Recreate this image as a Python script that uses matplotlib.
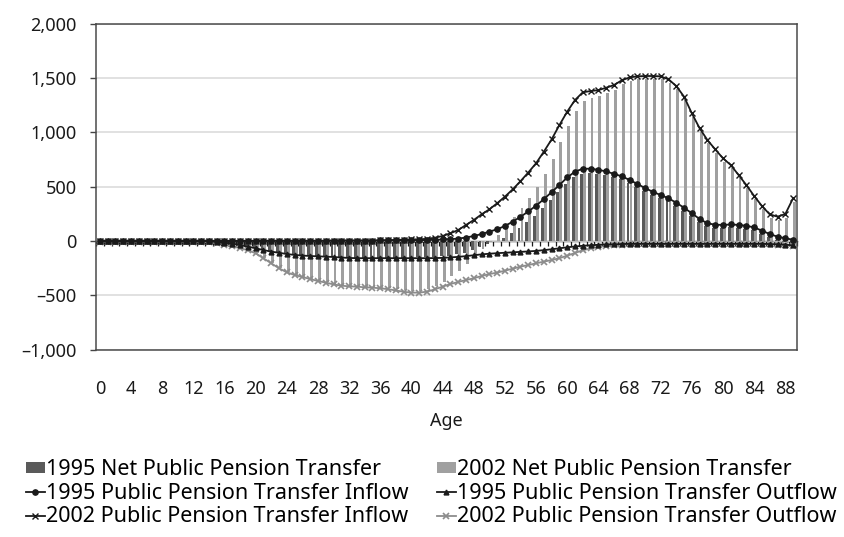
#!/usr/bin/env python3

import numpy as np
import matplotlib
matplotlib.use("Agg")
import matplotlib.pyplot as plt
from matplotlib.ticker import FuncFormatter

# Age groups 0..89
ages = list(range(90))

# 1995 net public pension transfer (dark bars)
net_1995 = [0] * 14 + [
    -3, -8, -15, -25, -38, -52,                                    # 14-19
    -65, -81, -96, -106, -118, -126, -132, -136, -139, -142,       # 20-29
    -143, -148, -152, -154, -154, -154, -153, -153, -153, -153,    # 30-39
    -152, -151, -149, -146, -141, -134, -124, -107, -85, -59,      # 40-49
    -31, -4, 30, 74, 122, 176, 234, 301, 374, 448,                 # 50-59
    527, 588, 621, 626, 620, 608, 588, 567, 536, 499,              # 60-69
    461, 426, 397, 367, 326, 280, 229, 176, 137, 124,              # 70-79
    122, 126, 122, 114, 99, 69, 36, 10, -9, -28]                   # 80-89

# 2002 net public pension transfer (light bars)
net_2002 = [-3] * 13 + [
    -6, -10, -18, -33, -48, -63, -83,                              # 13-19
    -111, -157, -203, -249, -286, -311, -329, -348, -366, -381,    # 20-29
    -395, -407, -413, -416, -422, -425, -429, -435, -445, -455,    # 30-39
    -461, -459, -446, -415, -374, -325, -276, -212, -150, -77,     # 40-49
    -13, 56, 135, 220, 300, 400, 500, 615, 757, 912,               # 50-59
    1060, 1195, 1285, 1315, 1330, 1362, 1393, 1440, 1475, 1488,    # 60-69
    1490, 1490, 1487, 1458, 1396, 1298, 1145, 1007, 899, 813,      # 70-79
    731, 669, 577, 485, 384, 292, 215, 192, 212, 360]              # 80-89

# 1995 inflow (black, circles)
inflow_1995 = [0] * 20 + [2] * 10 + [
    4, 4, 4, 4, 4, 4, 5, 5, 5, 5,                                  # 30-39
    6, 7, 9, 11, 14, 17, 22, 32, 46, 64,                           # 40-49
    86, 108, 138, 178, 222, 272, 325, 385, 450, 515,               # 50-59
    585, 638, 665, 665, 655, 640, 618, 595, 562, 525,              # 60-69
    487, 452, 423, 393, 352, 306, 255, 202, 163, 150,              # 70-79
    148, 152, 148, 140, 125, 95, 64, 40, 25, 12]                   # 80-89

# 1995 outflow (black, triangles)
outflow_1995 = [-2] * 14 + [
    -3, -8, -15, -25, -38, -52,                                    # 14-19
    -67, -83, -98, -108, -120, -128, -134, -138, -141, -144,       # 20-29
    -147, -152, -156, -158, -158, -158, -158, -158, -158, -158,    # 30-39
    -158, -158, -158, -157, -155, -151, -146, -139, -131, -123,    # 40-49
    -117, -112, -108, -104, -100, -96, -91, -84, -76, -67,         # 50-59
    -58, -50, -44, -39, -35, -32, -30, -28, -26, -26,              # 60-69
    -26, -26, -26, -26, -26, -26, -26, -26, -26, -26,              # 70-79
    -26, -26, -26, -26, -26, -26, -28, -30, -34, -40]              # 80-89

# 2002 inflow (black, x)
inflow_2002 = [2] * 30 + [
    4, 4, 4, 4, 4, 4, 6, 8, 10, 12,                                # 30-39
    14, 16, 20, 30, 46, 71, 101, 147, 193, 245,                    # 40-49
    291, 347, 408, 475, 550, 630, 715, 822, 935, 1067,             # 50-59
    1190, 1297, 1368, 1380, 1388, 1410, 1435, 1478, 1505, 1515,    # 60-69
    1518, 1518, 1515, 1488, 1426, 1328, 1175, 1037, 929, 843,      # 70-79
    761, 699, 607, 515, 414, 322, 245, 224, 248, 393]              # 80-89

# 2002 outflow (grey, x)
outflow_2002 = [-5] * 13 + [
    -8, -12, -20, -35, -50, -65, -85,                              # 13-19
    -113, -159, -205, -251, -288, -313, -331, -350, -368, -383,    # 20-29
    -399, -411, -417, -420, -426, -429, -435, -443, -455, -467,    # 30-39
    -475, -475, -466, -445, -420, -396, -377, -359, -343, -322,    # 40-49
    -304, -291, -273, -255, -236, -221, -205, -190, -175, -158,    # 50-59
    -135, -110, -85, -68, -55, -45, -38, -34, -30, -30,            # 60-69
    -30, -30, -30, -30, -30, -30, -30, -30, -30, -30,              # 70-79
    -30, -30, -30, -30, -30, -30, -30, -35, -40, -48]              # 80-89

age_ticks = list(range(0, 89, 4))
y_ticks = [-1000, -500, 0, 500, 1000, 1500, 2000]

plt.rcParams['font.family'] = ['Noto Sans', 'DejaVu Sans']

fig = plt.figure(figsize=(8.44, 5.37), dpi=100)
ax = fig.add_axes([0.1137, 0.3488, 0.8306, 0.6072])

x = np.array(ages)
bw = 0.37
bar95 = ax.bar(x - 0.19, net_1995, width=bw, color='#5a5a5a', zorder=2,
               label='1995 Net Public Pension Transfer')
bar02 = ax.bar(x + 0.19, net_2002, width=bw, color='#a0a0a0', zorder=2,
               label='2002 Net Public Pension Transfer')

ln_in95, = ax.plot(x, inflow_1995, color='#1a1a1a', lw=1.3, marker='o',
                   ms=3.8, zorder=4, label='1995 Public Pension Transfer Inflow')
ln_out95, = ax.plot(x, outflow_1995, color='#1a1a1a', lw=1.3, marker='^',
                    ms=3.5, zorder=4, label='1995 Public Pension Transfer Outflow')
ln_in02, = ax.plot(x, inflow_2002, color='#1a1a1a', lw=1.3, marker='x',
                   ms=4, mew=1, zorder=4, label='2002 Public Pension Transfer Inflow')
ln_out02, = ax.plot(x, outflow_2002, color='#8c8c8c', lw=1.3, marker='x',
                    ms=4, mew=1.2, zorder=3, label='2002 Public Pension Transfer Outflow')

ax.set_xlim(-0.5, 89.5)
ax.set_ylim(-1000, 2000)
ax.set_yticks(y_ticks)
ax.yaxis.set_major_formatter(FuncFormatter(
    lambda v, p: f"{v:,.0f}".replace('-', '\u2013')))
ax.set_xticks(age_ticks)
ax.set_xticklabels([str(a) for a in age_ticks])
ax.tick_params(axis='x', length=0, pad=22, labelsize=13, colors='#1a1a1a')
ax.tick_params(axis='y', direction='out', length=4, width=1, pad=10,
               labelsize=13, color='#444444', labelcolor='#1a1a1a')
ax.set_xlabel('Age', fontsize=13, labelpad=10, color='#1a1a1a')

ax.grid(axis='y', color='#dcdcdc', lw=1.2, zorder=0)
ax.set_axisbelow(True)
for s in ax.spines.values():
    s.set_color('#4a4a4a')
    s.set_linewidth(1.1)

# category axis crossing at zero with small tick marks between categories
zero_ax = ax.secondary_xaxis(1 / 3)
zero_ax.set_xticks(np.arange(-0.5, 90, 1))
zero_ax.tick_params(axis='x', direction='out', length=3.5, width=0.9,
                    color='#1a1a1a', labelbottom=False, labeltop=False)
for s in zero_ax.spines.values():
    s.set_color('#1a1a1a')
    s.set_linewidth(1.0)

# ncol=2 fills column by column
leg_handles = [bar95, ln_in95, ln_in02, bar02, ln_out95, ln_out02]
fig.legend(leg_handles, [h.get_label() for h in leg_handles],
           loc='upper left', bbox_to_anchor=(0.021, 0.161), ncol=2,
           frameon=False, fontsize=15.5, handlelength=0.85, handleheight=0.45,
           handletextpad=0.05, columnspacing=1.35, labelspacing=0.12,
           borderaxespad=0)

fig.savefig('out.png', dpi=100)
